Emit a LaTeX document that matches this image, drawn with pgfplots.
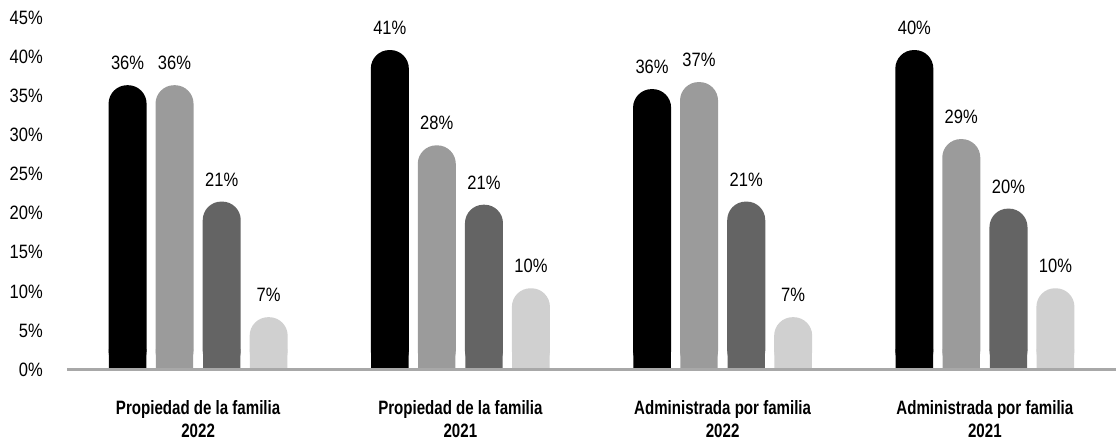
\documentclass[border=0pt]{standalone}
\usepackage{fontspec}
\setmainfont[FakeStretch=0.855]{Liberation Sans}
\newfontfamily\catfont[FakeStretch=0.78]{Liberation Sans}
\usepackage{pgfplots}
\usepackage{pgfplotstable}
\pgfplotsset{compat=1.18}

\definecolor{sone}{HTML}{000000}
\definecolor{stwo}{HTML}{9B9B9B}
\definecolor{sthree}{HTML}{646464}
\definecolor{sfour}{HTML}{D0D0D0}
\definecolor{axgray}{HTML}{A8A8A8}

% x = group, y = bar height, lab = printed value
\pgfplotstableread{
x y lab
0 36.4 36
1 40.9 41
2 35.9 36
3 40.9 40
}\serone
\pgfplotstableread{
x y lab
0 36.4 36
1 28.7 28
2 36.8 37
3 29.5 29
}\sertwo
\pgfplotstableread{
x y lab
0 21.5 21
1 21.1 21
2 21.5 21
3 20.6 20
}\serthree
\pgfplotstableread{
x y lab
0 6.7 7
1 10.4 10
2 6.7 7
3 10.4 10
}\serfour

\pgfplotsset{
  valbar/.style 2 args={ybar, bar shift=#1, fill=#2, draw=none, rounded corners=13.9pt,
    point meta=explicit,
    nodes near coords={\pgfmathprintnumber[fixed,precision=0]{\pgfplotspointmeta}\%}},
  % slightly narrower plain bar that fills the rounded bottom corners
  basebar/.style 2 args={ybar, forget plot, bar shift=#1, bar width=0.1425, fill=#2, draw=none,
    y filter/.expression={min(y,2.6)}},
}

\begin{document}
\begin{tikzpicture}
\begin{axis}[
scale only axis,
width=786.75pt,
height=263.6pt,
xmin=-0.5, xmax=3.5,
ymin=0, ymax=45,
clip=false,
axis on top,
/pgf/number format/assume math mode=true,
axis lines*=left,
x axis line style={draw=axgray, line width=2.25pt, -},
y axis line style={draw=none},
major tick length=0pt,
tick style={draw=none},
ytick={0,5,...,45},
yticklabels={0\%,5\%,10\%,15\%,20\%,25\%,30\%,35\%,40\%,45\%},
yticklabel style={anchor=east, inner sep=0pt, xshift=-18pt, font=\fontsize{14.5}{17}\selectfont},
xtick={0,1,2,3},
xticklabels={{Propiedad de la familia\\2022},{Propiedad de la familia\\2021},{Administrada por familia\\2022},{Administrada por familia\\2021}},
xticklabel style={anchor=north, inner sep=0pt, yshift=-23.4pt, align=center, font=\catfont\bfseries\fontsize{14.5}{17.25}\selectfont},
bar width=0.145,
every node near coord/.append style={anchor=south, inner sep=0pt, yshift=11.25pt, font=\fontsize{14.5}{17}\selectfont, text=black},
]
% rounded bars with value labels
\addplot[valbar={-0.269}{sone}, every node near coord/.append style={xshift=-52.9pt}] table[x=x, y=y, meta=lab] {\serone};
\addplot[valbar={-0.090}{stwo}, every node near coord/.append style={xshift=-17.7pt}] table[x=x, y=y, meta=lab] {\sertwo};
\addplot[valbar={0.090}{sthree}, every node near coord/.append style={xshift=17.7pt}] table[x=x, y=y, meta=lab] {\serthree};
\addplot[valbar={0.269}{sfour}, every node near coord/.append style={xshift=52.9pt}] table[x=x, y=y, meta=lab] {\serfour};
% square off the bottom corners
\addplot[basebar={-0.269}{sone}] table[x=x, y=y] {\serone};
\addplot[basebar={-0.090}{stwo}] table[x=x, y=y] {\sertwo};
\addplot[basebar={0.090}{sthree}] table[x=x, y=y] {\serthree};
\addplot[basebar={0.269}{sfour}] table[x=x, y=y] {\serfour};
\end{axis}
\pgfresetboundingbox
\path (current axis.south west) ++(-50.25pt,-53.625pt) rectangle ++(837pt,330.75pt);
\end{tikzpicture}
\end{document}
